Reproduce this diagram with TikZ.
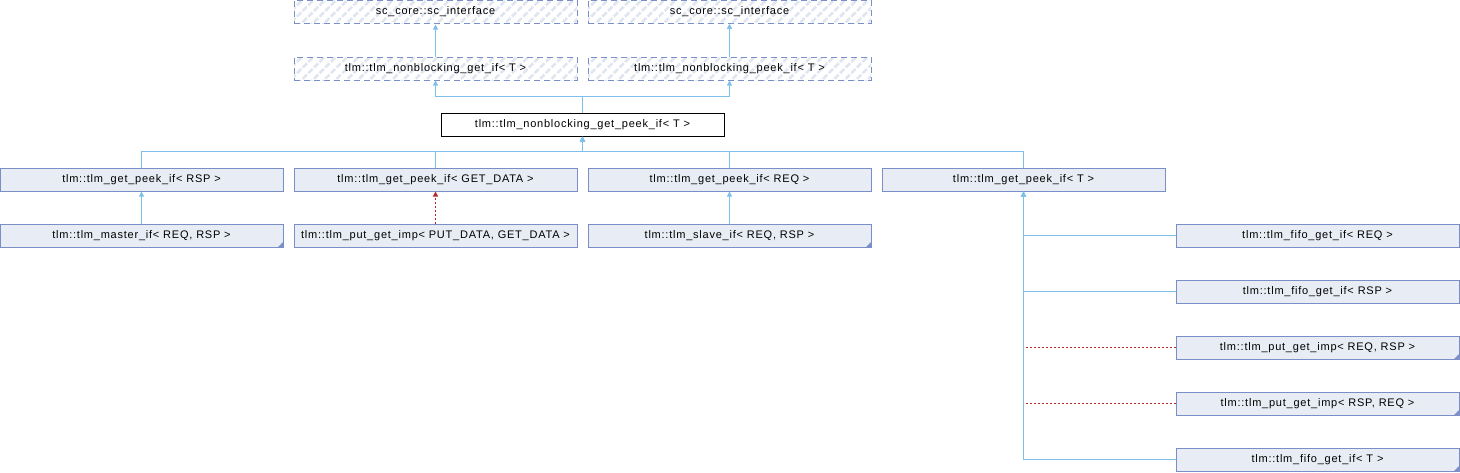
\documentclass[tikz,border=0pt]{standalone}
\usepackage{fontspec}
\newfontfamily\dxfont[LetterSpace=7]{Liberation Sans}
\usetikzlibrary{arrows.meta,patterns.meta}
\definecolor{edgeblue}{HTML}{7FC0EA}
\definecolor{boxborder}{HTML}{7A8FC8}
\definecolor{boxfill}{HTML}{E8ECF4}
\definecolor{hatch}{HTML}{E0E6F0}
\definecolor{tmplred}{HTML}{B82828}
\tikzset{
  box/.style={draw=boxborder, fill=boxfill, line width=1pt, minimum width=283pt, minimum height=23pt, inner sep=0pt, font=\dxfont\fontsize{11}{13}\selectfont},
  extbox/.style={box, dash pattern=on 6pt off 4pt, fill=none, pattern={Lines[angle=45,distance=8pt,line width=2.6pt]}, pattern color=hatch},
  mainbox/.style={box, draw=black, fill=white},
  edge/.style={draw=edgeblue, line width=1.1pt, -{Triangle[length=5pt,width=5pt]}},
  tmpl/.style={draw=tmplred, line width=1.1pt, dash pattern=on 2pt off 2pt, -{Triangle[length=5pt,width=5pt]}},
  tmplline/.style={draw=tmplred, line width=1.1pt, dash pattern=on 2pt off 2pt},
  trunc/.style={fill=boxborder, draw=none}
}
\newcommand{\truncmark}[1]{\fill[trunc] ([xshift=-0.5pt,yshift=0.5pt]#1.south east) -- ++(-5,0) -- ++(5,-5) -- cycle;}
\begin{document}
\begin{tikzpicture}[x=1pt,y=-1pt]
\useasboundingbox (0,0) rectangle (1460,472);
% row 1
\node[extbox] (r1a) at (435.5,11.75) {sc\_core::sc\_interface};
\node[extbox] (r1b) at (729.5,11.75) {sc\_core::sc\_interface};
% row 2
\node[extbox] (r2a) at (435.5,68.5) {tlm::tlm\_nonblocking\_get\_if< T >};
\node[extbox] (r2b) at (729.5,68.5) {tlm::tlm\_nonblocking\_peek\_if< T >};
% row 3
\node[mainbox] (r3) at (582.5,124.5) {tlm::tlm\_nonblocking\_get\_peek\_if< T >};
% row 4
\node[box] (r4a) at (141.5,179.5) {tlm::tlm\_get\_peek\_if< RSP >};
\node[box] (r4b) at (435.5,179.5) {tlm::tlm\_get\_peek\_if< GET\_DATA >};
\node[box] (r4c) at (729.5,179.5) {tlm::tlm\_get\_peek\_if< REQ >};
\node[box] (r4d) at (1023.5,179.5) {tlm::tlm\_get\_peek\_if< T >};
% row 5
\node[box] (r5a) at (141.5,235.5) {tlm::tlm\_master\_if< REQ, RSP >};
\node[box] (r5b) at (435.5,235.5) {tlm::tlm\_put\_get\_imp< PUT\_DATA, GET\_DATA >};
\node[box] (r5c) at (729.5,235.5) {tlm::tlm\_slave\_if< REQ, RSP >};
% right column
\node[box] (f1) at (1317.5,235.5) {tlm::tlm\_fifo\_get\_if< REQ >};
\node[box] (f2) at (1317.5,291.5) {tlm::tlm\_fifo\_get\_if< RSP >};
\node[box] (p1) at (1317.5,347.5) {tlm::tlm\_put\_get\_imp< REQ, RSP >};
\node[box] (p2) at (1317.5,403.5) {tlm::tlm\_put\_get\_imp< RSP, REQ >};
\node[box] (f3) at (1317.5,459.5) {tlm::tlm\_fifo\_get\_if< T >};
% truncation marks
\truncmark{r5a}
\truncmark{r5c}
\truncmark{p1}
\truncmark{p2}
\truncmark{f3}
% edges
\draw[edge] (r2a) -- (r1a);
\draw[edge] (r2b) -- (r1b);
\draw[edge] (r3.north) -- ++(0,-16) -| (r2a.south);
\draw[edge] (r3.north) -- ++(0,-16) -| (r2b.south);
\draw[edge] (r4a.north) -- ++(0,-16) -| (r3.south);
\draw[edge] (r4b.north) -- ++(0,-16) -| (r3.south);
\draw[edge] (r4c.north) -- ++(0,-16) -| (r3.south);
\draw[edge] (r4d.north) -- ++(0,-16) -| (r3.south);
\draw[edge] (r5a) -- (r4a);
\draw[tmpl] (r5b) -- (r4b);
\draw[edge] (r5c) -- (r4c);
\draw[tmplline] (p1.west) -- (p1.west -| r4d.south);
\draw[tmplline] (p2.west) -- (p2.west -| r4d.south);
\draw[edge] (f1.west) -| (r4d.south);
\draw[edge] (f2.west) -| (r4d.south);
\draw[edge] (f3.west) -| (r4d.south);
\end{tikzpicture}
\end{document}
